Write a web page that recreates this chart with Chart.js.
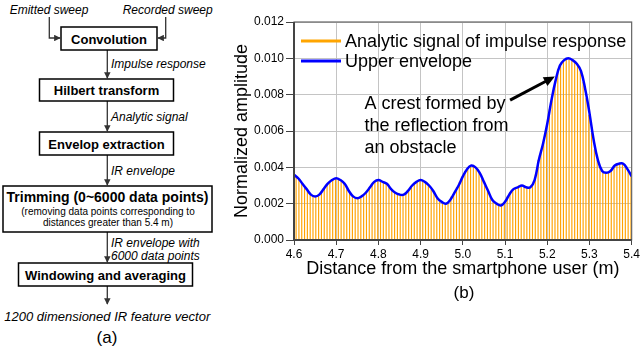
<!DOCTYPE html>
<html>
<head>
<meta charset="utf-8">
<script src="https://cdn.jsdelivr.net/npm/chart.js@4/dist/chart.umd.min.js"></script>
<style>
  html, body { margin:0; padding:0; background:#fff; }
  body { width:642px; height:354px; position:relative; overflow:hidden; font-family:'Liberation Sans', Arial, sans-serif; }
  #flow { position:absolute; left:0; top:0; }
  #wrap { position:absolute; left:215px; top:0; width:427px; height:284px; }
  #lblb { position:absolute; left:444px; top:282px; width:40px; text-align:center; font-size:17px; line-height:22px; }
</style>
</head>
<body>
<svg id="flow" width="215" height="354" xmlns="http://www.w3.org/2000/svg" font-family="Liberation Sans, Arial, sans-serif">
  <defs>
    <marker id="ah" viewBox="0 0 10 10" refX="9" refY="5" markerWidth="5" markerHeight="5" orient="auto">
      <path d="M0,0 L10,5 L0,10 z" fill="#333"/>
    </marker>
  </defs>
  <g fill="none" stroke="#333" stroke-width="1.3">
    <path d="M49.3,17 V38 H60" marker-end="url(#ah)"/>
    <path d="M165.7,17 V38 H158" marker-end="url(#ah)"/>
    <path d="M107.3,50 V78" marker-end="url(#ah)"/>
    <path d="M107.3,101 V131" marker-end="url(#ah)"/>
    <path d="M107.3,155 V185" marker-end="url(#ah)"/>
    <path d="M107.3,232 V262" marker-end="url(#ah)"/>
    <path d="M107.3,286 V304" marker-end="url(#ah)"/>
  </g>
  <g fill="#fff" stroke="#000" stroke-width="1.5">
    <rect x="61" y="27" width="96" height="23"/>
    <rect x="39.5" y="79" width="134" height="22"/>
    <rect x="39.5" y="132" width="134" height="23"/>
    <rect x="3" y="186" width="209" height="46"/>
    <rect x="18.5" y="263" width="174" height="23"/>
  </g>
  <g font-style="italic" font-size="12" fill="#000">
    <text x="49" y="14.3" text-anchor="middle">Emitted sweep</text>
    <text x="167.7" y="14.3" text-anchor="middle">Recorded sweep</text>
    <text x="111" y="68">Impulse response</text>
    <text x="111" y="121">Analytic signal</text>
    <text x="111" y="175">IR envelope</text>
    <text x="111" y="247">IR envelope with</text>
    <text x="111" y="260">6000 data points</text>
    <text x="107.3" y="321" text-anchor="middle" font-size="13">1200 dimensioned IR feature vector</text>
  </g>
  <g font-weight="bold" font-size="13" fill="#000" text-anchor="middle">
    <text x="109" y="43.5">Convolution</text>
    <text x="106.5" y="95">Hilbert transform</text>
    <text x="106.5" y="148.5">Envelop extraction</text>
    <text x="107.5" y="202" font-size="14">Trimming (0~6000 data points)</text>
    <text x="105.5" y="279.5">Windowing and averaging</text>
  </g>
  <g font-size="10" fill="#000" text-anchor="middle">
    <text x="108" y="215">(removing data points corresponding to</text>
    <text x="108" y="226">distances greater than 5.4 m)</text>
  </g>
  <text x="107" y="343" text-anchor="middle" font-size="17" fill="#000">(a)</text>
</svg>
<div id="wrap"><canvas id="c" width="427" height="284"></canvas></div>
<div id="lblb">(b)</div>
<script>
// Envelope sampled every 0.01 m (distance in metres)
const envDistance = [4.60,4.61,4.62,4.63,4.64,4.65,4.66,4.67,4.68,4.69,4.70,4.71,4.72,4.73,4.74,4.75,4.76,4.77,4.78,4.79,
  4.80,4.81,4.82,4.83,4.84,4.85,4.86,4.87,4.88,4.89,4.90,4.91,4.92,4.93,4.94,4.95,4.96,4.97,4.98,4.99,
  5.00,5.01,5.02,5.03,5.04,5.05,5.06,5.07,5.08,5.09,5.10,5.11,5.12,5.13,5.14,5.15,5.16,5.17,5.18,5.19,
  5.20,5.21,5.22,5.23,5.24,5.25,5.26,5.27,5.28,5.29,5.30,5.31,5.32,5.33,5.34,5.35,5.36,5.37,5.38,5.39,5.40];
const envValues = [0.0036,0.0034,0.0031,0.0028,0.0025,0.0024,0.0025,0.0028,0.0031,0.0033,
  0.0034,0.0033,0.0031,0.0027,0.0024,0.0023,0.0024,0.0026,0.0029,0.0032,
  0.0033,0.0032,0.0031,0.0028,0.0026,0.0025,0.0025,0.0027,0.0030,0.0032,
  0.0033,0.0032,0.0030,0.0027,0.0023,0.0021,0.0020,0.0022,0.0026,0.0030,
  0.0035,0.0039,0.0041,0.0040,0.0037,0.0032,0.0027,0.0022,0.0020,0.0019,
  0.0021,0.0025,0.0028,0.0029,0.0030,0.0029,0.0029,0.0033,0.0044,0.0053,
  0.0064,0.0077,0.0088,0.0096,0.0099,0.0100,0.0099,0.0097,0.0093,0.0083,
  0.0070,0.0055,0.0044,0.0038,0.0037,0.0038,0.0041,0.0042,0.0042,0.0039,0.0035];
// Peaks of the analytic signal oscillation (121 peaks spanning 4.6 - 5.4 m)
const signalPeaks = [0.0036,0.0035,0.0033,0.0031,0.0029,0.0027,0.0025,0.0024,0.0024,0.0025,
  0.0027,0.0029,0.0031,0.0032,0.0033,0.0034,0.0034,0.0032,0.0031,0.0028,
  0.0026,0.0024,0.0023,0.0023,0.0024,0.0025,0.0027,0.0029,0.0031,0.0032,
  0.0033,0.0033,0.0032,0.0031,0.0029,0.0027,0.0026,0.0025,0.0025,0.0025,
  0.0026,0.0028,0.0030,0.0031,0.0032,0.0033,0.0033,0.0032,0.0030,0.0028,
  0.0026,0.0023,0.0021,0.0020,0.0020,0.0021,0.0024,0.0026,0.0029,0.0032,
  0.0035,0.0038,0.0040,0.0041,0.0041,0.0039,0.0037,0.0034,0.0030,0.0027,
  0.0024,0.0021,0.0020,0.0019,0.0020,0.0021,0.0024,0.0026,0.0028,0.0029,
  0.0030,0.0030,0.0029,0.0029,0.0029,0.0031,0.0036,0.0044,0.0049,0.0055,
  0.0063,0.0072,0.0079,0.0087,0.0093,0.0097,0.0099,0.0100,0.0100,0.0099,
  0.0098,0.0096,0.0093,0.0087,0.0078,0.0069,0.0059,0.0050,0.0044,0.0040,
  0.0037,0.0037,0.0037,0.0039,0.0041,0.0042,0.0042,0.0042,0.0041,0.0038,0.0035];
const xTicks = [4.6,4.7,4.8,4.9,5.0,5.1,5.2,5.3,5.4];
const yTicks = [0.000,0.002,0.004,0.006,0.008,0.010,0.012];
const seriesNames = ['Analytic signal of impulse response','Upper envelope'];
const annotationLines = ['A crest formed by','the reflection from','an obstacle'];

const FONT = "'Liberation Sans', Arial, sans-serif";

const extras = {
  id: 'extras',
  afterDraw(chart) {
    const {ctx, chartArea: a, scales} = chart;
    ctx.save();
    // plot frame
    ctx.strokeStyle = '#666';
    ctx.lineWidth = 1.2;
    ctx.strokeRect(a.left, a.top, a.right - a.left, a.bottom - a.top);
    ctx.strokeStyle = '#444';
    ctx.lineWidth = 2;
    ctx.beginPath();
    ctx.moveTo(a.left, a.top); ctx.lineTo(a.left, a.bottom); ctx.lineTo(a.right, a.bottom);
    ctx.stroke();
    // legend
    ctx.font = '18px ' + FONT;
    ctx.textBaseline = 'middle';
    ctx.fillStyle = '#000';
    chart.data.datasets.forEach((ds, i) => {
      const y = a.top + 19 + i * 20;
      ctx.strokeStyle = ds.legendColor;
      ctx.lineWidth = 3;
      ctx.beginPath();
      ctx.moveTo(a.left + 7, y); ctx.lineTo(a.left + 47, y);
      ctx.stroke();
      ctx.fillText(ds.label, a.left + 51, y + 1);
    });
    // annotation
    const sx = scales.x, sy = scales.y;
    const tx = sx.getPixelForValue(4.767);
    annotationLines.forEach((t, i) => {
      ctx.fillText(t, tx, sy.getPixelForValue(0.0075) + i * 22);
    });
    const x0 = sx.getPixelForValue(5.112), y0 = sy.getPixelForValue(0.0077);
    const x1 = sx.getPixelForValue(5.218), y1 = sy.getPixelForValue(0.0090);
    const ang = Math.atan2(y1 - y0, x1 - x0);
    ctx.strokeStyle = '#000';
    ctx.lineWidth = 3;
    ctx.beginPath();
    ctx.moveTo(x0, y0);
    ctx.lineTo(x1 - 8 * Math.cos(ang), y1 - 8 * Math.sin(ang));
    ctx.stroke();
    ctx.fillStyle = '#000';
    ctx.beginPath();
    ctx.moveTo(x1, y1);
    ctx.lineTo(x1 - 11 * Math.cos(ang) + 5 * Math.sin(ang), y1 - 11 * Math.sin(ang) - 5 * Math.cos(ang));
    ctx.lineTo(x1 - 11 * Math.cos(ang) - 5 * Math.sin(ang), y1 - 11 * Math.sin(ang) + 5 * Math.cos(ang));
    ctx.closePath();
    ctx.fill();
    ctx.restore();
  }
};

new Chart(document.getElementById('c'), {
  data: {
    datasets: [
      {
        type: 'bar',
        label: seriesNames[0],
        legendColor: '#FFA500',
        data: signalPeaks.map((v, i) => ({x: i, y: v})),
        backgroundColor: '#FFA200',
        borderWidth: 0,
        xAxisID: 'x2',
        barPercentage: 0.82,
        categoryPercentage: 1,
        order: 2
      },
      {
        type: 'line',
        label: seriesNames[1],
        legendColor: '#0000FF',
        data: envDistance.map((d, i) => ({x: d, y: envValues[i]})),
        borderColor: '#0000FF',
        borderWidth: 2.5,
        pointRadius: 0,
        tension: 0.4,
        xAxisID: 'x',
        order: 1
      }
    ]
  },
  options: {
    responsive: false,
    animation: false,
    devicePixelRatio: 1,
    layout: { padding: { left: 12, right: 8, top: 22, bottom: 0 } },
    plugins: { legend: { display: false }, tooltip: { enabled: false } },
    scales: {
      x: {
        type: 'linear',
        min: xTicks[0], max: xTicks[xTicks.length - 1],
        afterBuildTicks: s => { s.ticks = xTicks.map(v => ({value: v})); },
        afterFit: s => { s.height = 44; },
        ticks: { callback: v => Number(v).toFixed(1), color: '#000', font: { family: FONT, size: 12 }, padding: 2, maxRotation: 0 },
        grid: { color: '#c4c4c4', lineWidth: 1, tickColor: '#444', tickLength: 5 },
        border: { display: false },
        title: { display: true, text: 'Distance from the smartphone user (m)', color: '#000', font: { family: FONT, size: 18 }, padding: { top: 0, bottom: 4 } }
      },
      x2: {
        type: 'linear', display: false, min: 0, max: signalPeaks.length - 1, offset: false
      },
      y: {
        min: yTicks[0], max: yTicks[yTicks.length - 1],
        afterBuildTicks: s => { s.ticks = yTicks.map(v => ({value: v})); },
        afterFit: s => { s.width = 67; },
        ticks: { callback: v => Number(v).toFixed(3), color: '#000', font: { family: FONT, size: 12 }, padding: 2 },
        grid: { color: '#c4c4c4', lineWidth: 1, tickColor: '#444', tickLength: 8 },
        border: { display: false },
        title: { display: true, text: 'Normalized amplitude', color: '#000', font: { family: FONT, size: 18 }, padding: { top: 4, bottom: 0 } }
      }
    }
  },
  plugins: [extras]
});
</script>
</body>
</html>
